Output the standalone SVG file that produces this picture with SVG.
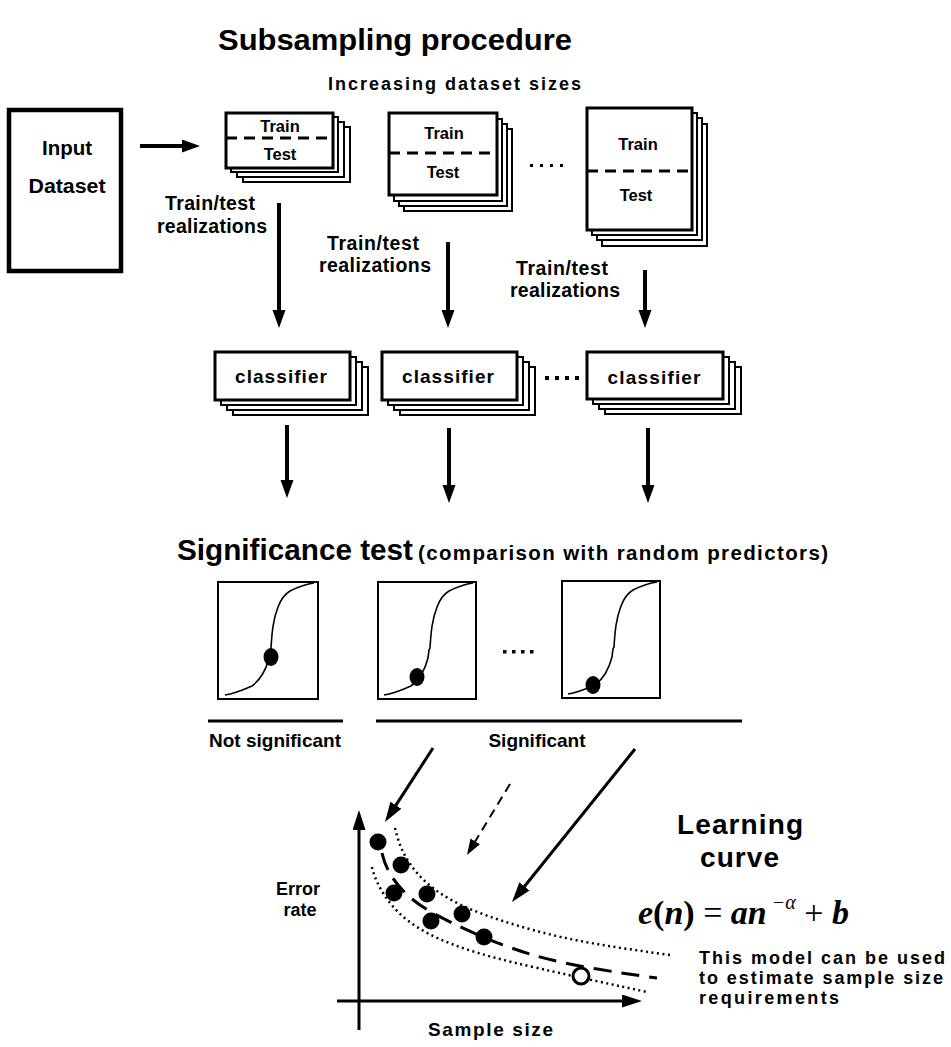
<svg xmlns="http://www.w3.org/2000/svg" width="951" height="1047" viewBox="0 0 951 1047">
<style>
.t{font-family:"Liberation Sans",Arial,sans-serif;font-weight:bold;fill:#000}
.m{text-anchor:middle}
.front{fill:#fff;stroke:#000;stroke-width:3}
.back{fill:#fff;stroke:#000;stroke-width:2}
.dash{stroke:#000;stroke-width:3;stroke-dasharray:11 7}
.arr{stroke:#000;stroke-width:4;fill:none;marker-end:url(#ah)}
.arr2{stroke:#000;stroke-width:3;fill:none;marker-end:url(#ah2)}
.arr3{stroke:#000;stroke-width:2;fill:none;stroke-dasharray:9 6;marker-end:url(#ah3)}
.chart{fill:#fff;stroke:#000;stroke-width:2}
.sc{fill:none;stroke:#000;stroke-width:1.6}
.dot{fill:#000}
.dotted{fill:none;stroke:#000;stroke-width:2.5;stroke-dasharray:2 3.5}
.ldash{fill:none;stroke:#000;stroke-width:3;stroke-dasharray:18 10}
</style>
<defs>
<marker id="ah" markerUnits="userSpaceOnUse" markerWidth="20" markerHeight="14" refX="4" refY="6.5" orient="auto"><path d="M0,0 L18,6.5 L0,13 z" fill="#000"/></marker>
<marker id="ah2" markerUnits="userSpaceOnUse" markerWidth="22" markerHeight="14" refX="4" refY="6.5" orient="auto"><path d="M0,0 L20,6.5 L0,13 z" fill="#000"/></marker>
<marker id="ah3" markerUnits="userSpaceOnUse" markerWidth="18" markerHeight="12" refX="3" refY="5.5" orient="auto"><path d="M0,0 L16,5.5 L0,11 z" fill="#000"/></marker>
<path id="scurve" d="M7,113 C15,112 25,108 34,104 C42,98 48,88 51,76 L52,68 L53,66 C54,50 55,38 60,25 C63,17 67,12 72,9 C80,5 88,2 96,1"/>
</defs>

<g id="titles">
<text class="t" x="218" y="50" font-size="30" textLength="354" lengthAdjust="spacingAndGlyphs">Subsampling procedure</text>
<text class="t" x="328" y="90" font-size="18" textLength="253" lengthAdjust="spacing">Increasing dataset sizes</text>
<text class="t" x="177" y="560" font-size="29.5" textLength="236" lengthAdjust="spacingAndGlyphs">Significance test</text>
<text class="t" x="418" y="560" font-size="20.5" textLength="410" lengthAdjust="spacing">(comparison with random predictors)</text>
</g>

<g id="input">
<rect x="9" y="110" width="112" height="161" fill="#fff" stroke="#000" stroke-width="4.5"/>
<text class="t m" x="67" y="155" font-size="20.5">Input</text>
<text class="t m" x="67" y="193" font-size="20.5" textLength="77" lengthAdjust="spacingAndGlyphs">Dataset</text>
</g>

<g id="stack1">
<rect class="back" x="243" y="127" width="107" height="55"/>
<rect class="back" x="237" y="122" width="107" height="55"/>
<rect class="back" x="231" y="117" width="107" height="55"/>
<rect class="front" x="226" y="113" width="107" height="55"/>
<line class="dash" x1="226" y1="138" x2="333" y2="138"/>
<text class="t m" x="280" y="132" font-size="16.5">Train</text>
<text class="t m" x="280" y="160" font-size="16.5">Test</text>
</g>

<g id="stack2">
<rect class="back" x="404" y="129" width="108" height="82"/>
<rect class="back" x="399" y="124" width="108" height="82"/>
<rect class="back" x="394" y="119" width="108" height="82"/>
<rect class="front" x="389" y="113" width="108" height="82"/>
<line class="dash" x1="389" y1="153" x2="497" y2="153"/>
<text class="t m" x="444" y="139" font-size="16.5">Train</text>
<text class="t m" x="443" y="178" font-size="16.5">Test</text>
</g>

<g id="stack3">
<rect class="back" x="602" y="124" width="105" height="122"/>
<rect class="back" x="597" y="118" width="105" height="122"/>
<rect class="back" x="592" y="113" width="105" height="122"/>
<rect class="front" x="587" y="108" width="105" height="122"/>
<line class="dash" x1="587" y1="171" x2="692" y2="171"/>
<text class="t m" x="638" y="150" font-size="16.5">Train</text>
<text class="t m" x="636" y="201" font-size="16.5">Test</text>
</g>

<g id="dots1">
<rect x="530" y="164" width="3" height="3"/><rect x="540" y="164" width="3" height="3"/><rect x="550" y="164" width="3" height="3"/><rect x="560" y="164" width="3" height="3"/>
</g>

<g id="labels">
<text class="t m" x="210" y="210" font-size="19.5" textLength="90" lengthAdjust="spacing">Train/test</text>
<text class="t m" x="212" y="233" font-size="19.5" textLength="110" lengthAdjust="spacing">realizations</text>
<text class="t m" x="373" y="250" font-size="19.5" textLength="92" lengthAdjust="spacing">Train/test</text>
<text class="t m" x="375" y="272" font-size="19.5" textLength="112" lengthAdjust="spacing">realizations</text>
<text class="t m" x="562" y="275" font-size="19.5" textLength="92" lengthAdjust="spacing">Train/test</text>
<text class="t m" x="565" y="297" font-size="19.5" textLength="110" lengthAdjust="spacing">realizations</text>
</g>

<g id="classifier1">
<rect class="back" x="233" y="367" width="135" height="48"/>
<rect class="back" x="227" y="362" width="135" height="48"/>
<rect class="back" x="221" y="357" width="135" height="48"/>
<rect class="front" x="215" y="352" width="135" height="48"/>
<text class="t m" x="281" y="383" font-size="19" textLength="92" lengthAdjust="spacing">classifier</text>
</g>
<g id="classifier2">
<rect class="back" x="400" y="367" width="135" height="48"/>
<rect class="back" x="394" y="362" width="135" height="48"/>
<rect class="back" x="388" y="357" width="135" height="48"/>
<rect class="front" x="382" y="352" width="135" height="48"/>
<text class="t m" x="448" y="383" font-size="19" textLength="92" lengthAdjust="spacing">classifier</text>
</g>
<g id="dots2">
<rect x="545" y="376" width="4" height="4"/><rect x="555" y="376" width="4" height="4"/><rect x="565" y="376" width="4" height="4"/><rect x="575" y="376" width="4" height="4"/>
</g>
<g id="classifier3">
<rect class="back" x="605" y="367" width="136" height="47"/>
<rect class="back" x="599" y="362" width="136" height="47"/>
<rect class="back" x="593" y="357" width="136" height="47"/>
<rect class="front" x="587" y="352" width="136" height="47"/>
<text class="t m" x="654" y="384" font-size="19" textLength="93" lengthAdjust="spacing">classifier</text>
</g>

<g id="chart1">
<rect class="chart" x="218" y="582" width="100" height="117"/>
<use href="#scurve" class="sc" transform="translate(218,582)"/>
<ellipse class="dot" cx="271" cy="657" rx="7.5" ry="9"/>
</g>
<g id="chart2">
<rect class="chart" x="378" y="582" width="98" height="117"/>
<use href="#scurve" class="sc" transform="translate(377,582)"/>
<ellipse class="dot" cx="417" cy="677" rx="7.5" ry="9"/>
</g>
<g id="dots3">
<rect x="503" y="650" width="3.5" height="3.5"/><rect x="512" y="650" width="3.5" height="3.5"/><rect x="521" y="650" width="3.5" height="3.5"/><rect x="530" y="650" width="3.5" height="3.5"/>
</g>
<g id="chart3">
<rect class="chart" x="562" y="581" width="98" height="117"/>
<use href="#scurve" class="sc" transform="translate(561,581)"/>
<ellipse class="dot" cx="593" cy="685" rx="7.5" ry="9"/>
</g>

<g id="significance">
<line x1="208" y1="721" x2="343" y2="721" stroke="#000" stroke-width="3"/>
<line x1="376" y1="721" x2="742" y2="721" stroke="#000" stroke-width="3"/>
<text class="t m" x="275" y="747" font-size="19">Not significant</text>
<text class="t m" x="537" y="747" font-size="19">Significant</text>
</g>

<g id="learning-chart">
<path class="dotted" d="M395,828 C400,850 410,870 433,888 S490,918 533,930 S620,948 670,955"/>
<path class="dotted" d="M372,867 C376,885 390,910 417,927 S480,955 533,967 S610,984 647,992"/>
<path class="ldash" d="M382,853 C386,872 400,895 433,913 S500,945 533,955 S620,973 657,978"/>
<circle class="dot" cx="378" cy="842" r="8.5"/>
<circle class="dot" cx="401" cy="865" r="8.5"/>
<circle class="dot" cx="394" cy="893" r="8.5"/>
<circle class="dot" cx="427" cy="894" r="8.5"/>
<circle class="dot" cx="431" cy="921" r="8.5"/>
<circle class="dot" cx="462" cy="914" r="8.5"/>
<circle class="dot" cx="484" cy="937" r="8.5"/>
<circle cx="581" cy="976" r="8" fill="#fff" stroke="#000" stroke-width="3"/>
<line class="arr2" x1="359" y1="1030" x2="359" y2="826"/>
<line class="arr2" x1="337" y1="1001" x2="626" y2="1001"/>
<text class="t m" x="298" y="895" font-size="18">Error</text>
<text class="t m" x="300" y="916" font-size="18">rate</text>
<text class="t" x="428" y="1036" font-size="19" textLength="125" lengthAdjust="spacing">Sample size</text>
</g>

<g id="learning-text">
<text class="t" x="677" y="834" font-size="28" textLength="126" lengthAdjust="spacing">Learning</text>
<text class="t" x="700" y="867" font-size="28" textLength="79" lengthAdjust="spacing">curve</text>
<text x="638" y="924" font-family="Liberation Serif,'Times New Roman',serif" font-size="34" fill="#000"><tspan font-weight="bold" font-style="italic">e</tspan><tspan font-weight="bold">(</tspan><tspan font-weight="bold" font-style="italic">n</tspan><tspan font-weight="bold">)</tspan><tspan> = </tspan><tspan font-weight="bold" font-style="italic">an</tspan><tspan font-size="20" dy="-15" font-style="italic"> −α</tspan><tspan dy="15"> + </tspan><tspan font-weight="bold" font-style="italic">b</tspan></text>
<text class="t" x="699" y="964" font-size="18" textLength="246" lengthAdjust="spacing">This model can be used</text>
<text class="t" x="699" y="984" font-size="18" textLength="244" lengthAdjust="spacing">to estimate sample size</text>
<text class="t" x="699" y="1004" font-size="18" textLength="140" lengthAdjust="spacing">requirements</text>
</g>

<g id="connectors">
<line class="arr" x1="140" y1="146" x2="186" y2="146"/>
<line class="arr" x1="279" y1="203" x2="279" y2="314"/>
<line class="arr" x1="448" y1="242" x2="448" y2="314"/>
<line class="arr" x1="645" y1="270" x2="645" y2="314"/>
<line class="arr" x1="287" y1="425" x2="287" y2="484"/>
<line class="arr" x1="449" y1="428" x2="449" y2="489"/>
<line class="arr" x1="648" y1="428" x2="648" y2="489"/>
<line class="arr2" x1="433" y1="748" x2="393.7" y2="808.6"/>
<line class="arr3" x1="510" y1="784" x2="473.7" y2="843.9"/>
<line class="arr2" x1="635" y1="749" x2="522" y2="889.5"/>
</g>
</svg>
